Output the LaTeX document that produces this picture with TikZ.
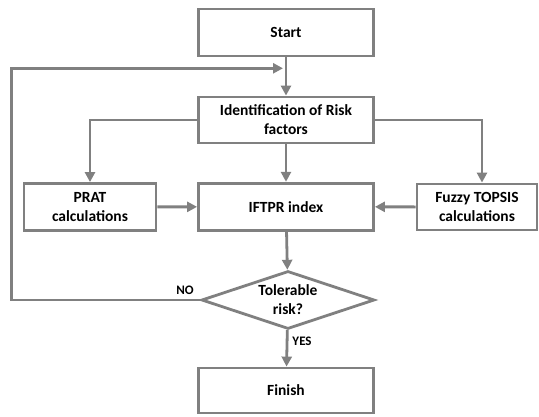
\documentclass[tikz,border=0pt]{standalone}
\usepackage{fontspec}
\setmainfont{Carlito}
\usetikzlibrary{arrows.meta, shapes.geometric}
\definecolor{linegray}{RGB}{128,128,128}
\tikzset{
  box/.style={draw=linegray, line width=2.8pt, fill=white, align=center, minimum width=175pt, minimum height=46pt, inner sep=2pt, font=\bfseries\fontsize{15.5}{19}\selectfont},
  kstep/.style={box},
  kside/.style={box, minimum width=132pt, minimum height=47pt},
  kdecision/.style={box, diamond, aspect=2.9, minimum width=173pt, minimum height=58pt, inner sep=0pt},
  klabel/.style={font=\bfseries\fontsize{13}{15}\selectfont, inner sep=1pt},
  flow/.style={-{Triangle[length=10pt, width=10pt]}, draw=linegray, line width=2.8pt},
}
\begin{document}
\begin{tikzpicture}[x=1pt, y=-1pt]
    \useasboundingbox (0,0) rectangle (539,417);
    \node[kstep, minimum height=47pt] (start) at (286,32.5) {Start};
    \node[kstep] (ident) at (286,120) {Identification of Risk\\factors};
    \node[kside] (prat) at (90,207) {PRAT\\calculations};
    \node[kstep, minimum height=47pt] (iftpr) at (286,206.7) {IFTPR index};
    \node[kside, minimum width=120pt, minimum height=46pt] (fuzzy) at (477,207) {Fuzzy TOPSIS\\calculations};
    \node[kdecision] (decide) at (288,300) {Tolerable\\risk?};
    \node[kstep, minimum height=45pt] (finish) at (286,390.5) {Finish};
    \coordinate (merge) at (283,68.3);
    \coordinate (loopcorner) at (11.7,300);
    \draw[flow] (start) -- (ident);
    \draw[flow] (ident.west) -| (prat.north);
    \draw[flow] (ident.east) -| ([xshift=5pt]fuzzy.north);
    \draw[flow] (ident) -- (iftpr);
    \draw[flow] (prat) -- (iftpr);
    \draw[flow] (fuzzy) -- (iftpr);
    \draw[flow] (iftpr) -- (decide);
    \draw[flow] (decide) -- (finish) node[klabel, pos=0.3, right=3pt]{YES};
    \draw[flow] (decide.west) -- node[klabel, pos=0.08, above=3pt]{NO} (loopcorner) |- (merge);
  \end{tikzpicture}
\end{document}
